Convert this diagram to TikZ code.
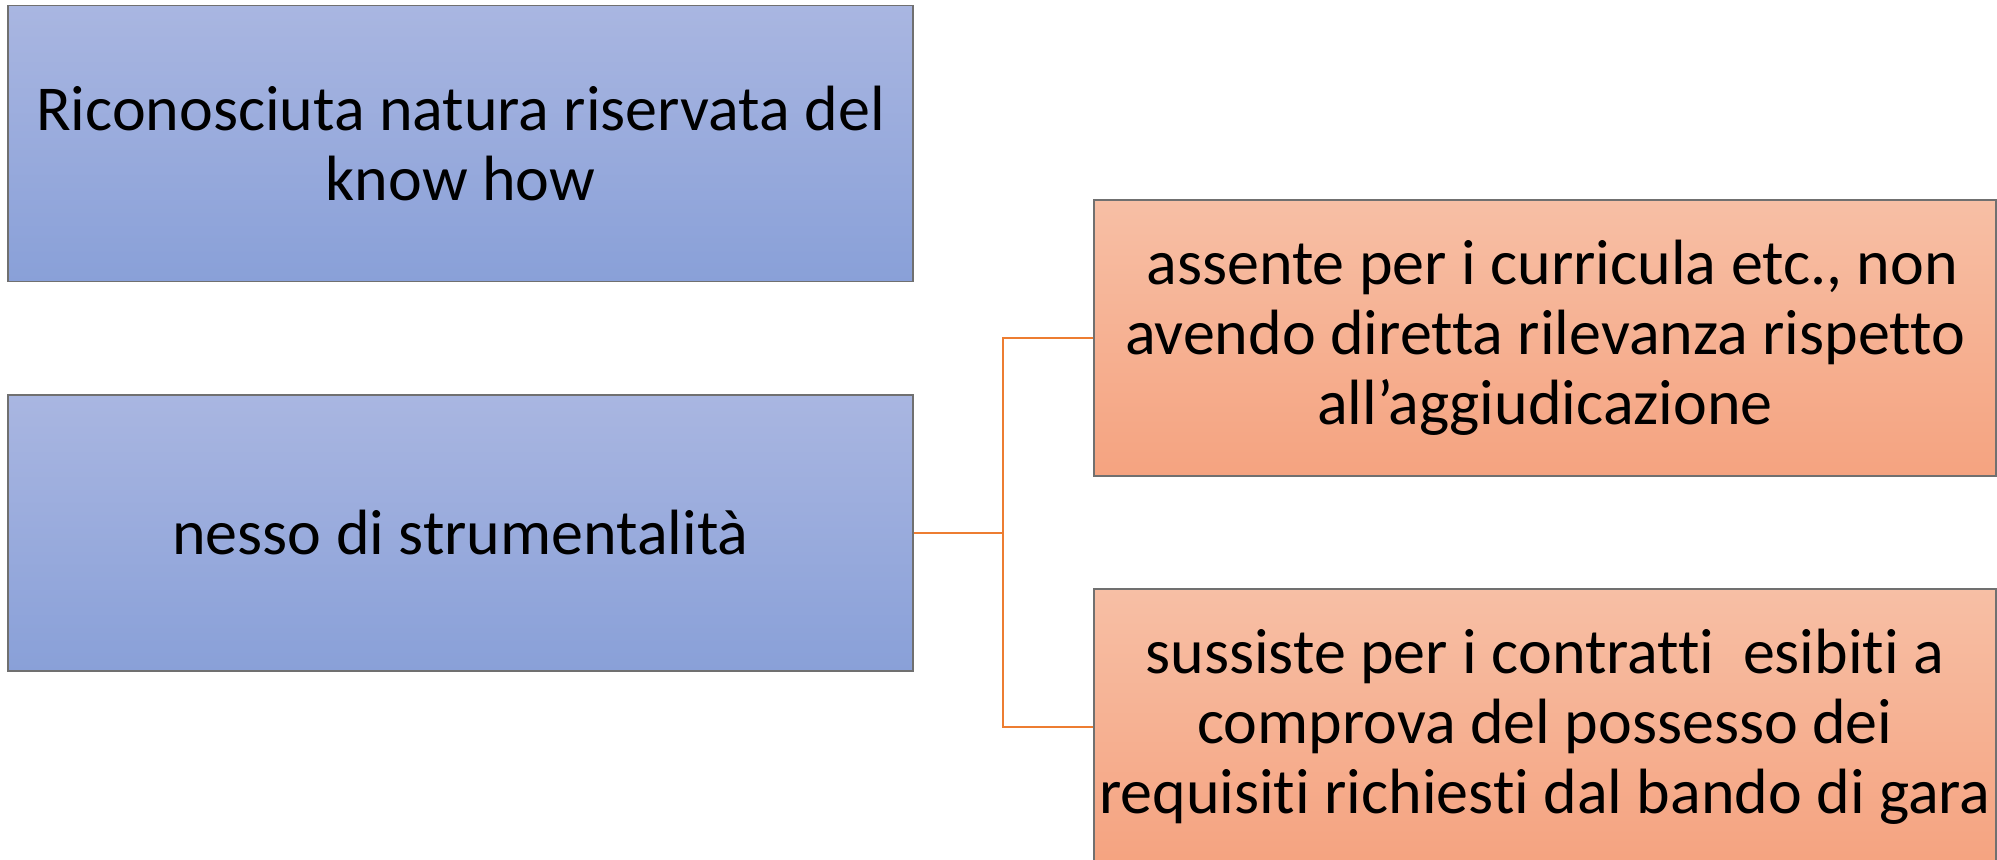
\documentclass[tikz,border=0pt]{standalone}
\usepackage{fontspec}
\setmainfont{Carlito}[Ligatures=NoCommon]
\definecolor{bluetop}{RGB}{169,182,225}
\definecolor{bluebot}{RGB}{137,160,216}
\definecolor{orangetop}{RGB}{247,191,165}
\definecolor{orangebot}{RGB}{245,163,128}
\definecolor{boxline}{RGB}{112,112,112}
\definecolor{linkline}{RGB}{237,125,49}
\begin{document}
\begin{tikzpicture}[x=0.5pt, y=-0.5pt,
    bluebox/.style={draw=boxline, line width=0.7pt, top color=bluetop, bottom color=bluebot,
      minimum width=452.5pt, minimum height=138pt, inner sep=0pt, align=center,
      font=\fontsize{32pt}{35pt}\selectfont},
    orangebox/.style={draw=boxline, line width=0.7pt, top color=orangetop, bottom color=orangebot,
      minimum width=451pt, minimum height=138pt, inner sep=0pt, align=center,
      font=\fontsize{32pt}{35pt}\selectfont},
    link/.style={draw=linkline, line width=1pt}]
  \useasboundingbox (0, 0) rectangle (1997, 860);
  \node[bluebox] (know) at (460.5, 143.5) {Riconosciuta natura riservata del\\know how};
  \node[bluebox] (nesso) at (460.5, 533) {nesso di strumentalità};
  \node[orangebox] (assente) at (1545, 338) {\ assente per i curricula etc., non\\avendo diretta rilevanza rispetto\\all’aggiudicazione};
  \node[orangebox] (sussiste) at (1545, 727) {sussiste per i contratti\ \ esibiti a\\comprova del possesso dei\\requisiti richiesti dal bando di gara};
  \coordinate (fork) at (1003, 533);
  \draw[link] (nesso.east) -- (fork);
  \draw[link] (fork) |- (assente.west);
  \draw[link] (fork) |- (sussiste.west);
\end{tikzpicture}
\end{document}
